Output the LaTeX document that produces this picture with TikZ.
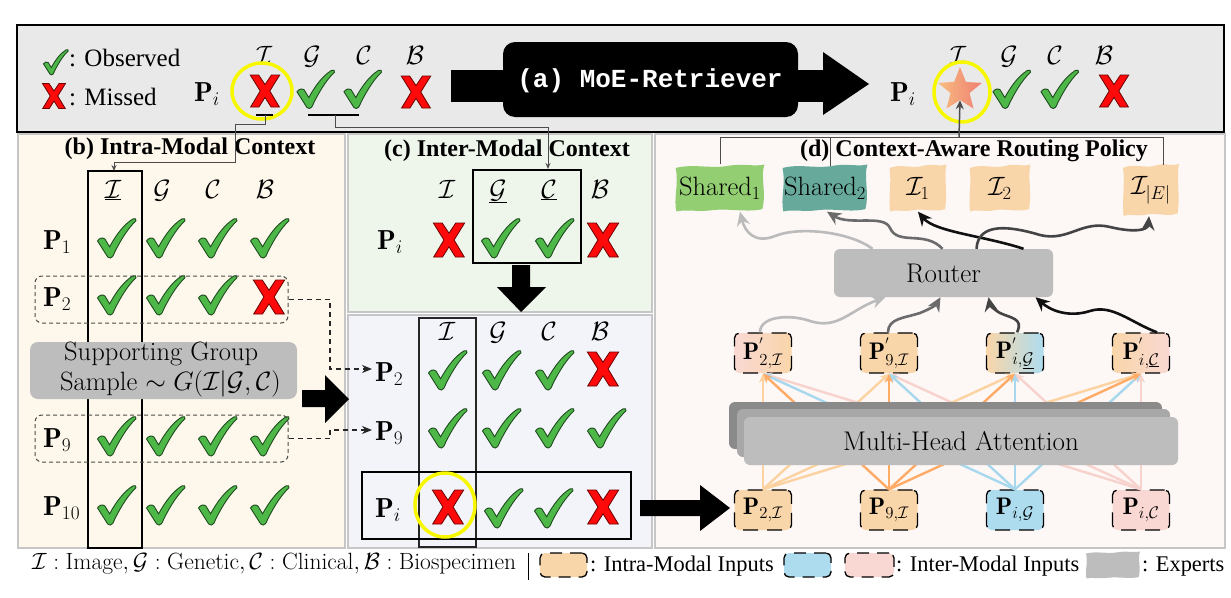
\RequirePackage{fix-cm}
\documentclass[tikz,border=0pt]{standalone}
\usepackage{fontspec}
\newfontfamily\tmsfont{Liberation Serif}
\newfontfamily\monofnt{Liberation Mono}
\usetikzlibrary{arrows.meta,shapes.geometric,calc}
\definecolor{ckgreen}{HTML}{4DB848}
\definecolor{ckline}{HTML}{1F4A1F}
\definecolor{xred}{HTML}{FF0A0A}
\definecolor{xline}{HTML}{6B0000}
\definecolor{barbg}{HTML}{E9E9E9}
\definecolor{bbg}{HTML}{FDF8EB}
\definecolor{cbgA}{HTML}{EEF6EC}
\definecolor{cbgB}{HTML}{F3F4FA}
\definecolor{dbg}{HTML}{FDF7F6}
\definecolor{pborder}{HTML}{C6C6C6}
\definecolor{boxgray}{HTML}{BDBDBD}
\definecolor{peach}{HTML}{F9D6A9}
\definecolor{lblue}{HTML}{AEDCEF}
\definecolor{lpink}{HTML}{F9D8D3}
\definecolor{shA}{HTML}{93CF72}
\definecolor{shB}{HTML}{67AA9C}
\definecolor{attA}{HTML}{FCD3A0}
\definecolor{attB}{HTML}{FFAB68}
\definecolor{attC}{HTML}{A7D8EE}
\definecolor{attD}{HTML}{F8D2CC}
\definecolor{gA}{HTML}{BBBBBB}
\definecolor{gB}{HTML}{6B6B6B}
\definecolor{gC}{HTML}{444444}
\definecolor{gD}{HTML}{111111}
\definecolor{hlyellow}{HTML}{F7F700}
\definecolor{starA}{HTML}{F8BC80}
\definecolor{starB}{HTML}{EE7F72}
\definecolor{layA}{HTML}{8A8A8A}
\definecolor{layB}{HTML}{A8A8A8}
\newcommand\chk[3]{\filldraw[fill=ckgreen,draw=ckline,line width=0.9pt,shift={(#1,#2)},scale=#3,yscale=-1] (-1.0,-0.15) .. controls (-0.9,0.0) and (-0.75,0.05) .. (-0.62,-0.05) -- (-0.38,-0.45) .. controls (-0.05,0.15) and (0.35,0.7) .. (0.82,0.98) .. controls (0.92,1.03) and (1.02,0.97) .. (0.97,0.88) .. controls (0.5,0.45) and (0.05,-0.35) .. (-0.22,-0.95) .. controls (-0.28,-1.05) and (-0.42,-1.05) .. (-0.48,-0.97) -- cycle;}
\newcommand\xmk[3]{\filldraw[fill=xred,draw=xline,line width=0.8pt,shift={(#1,#2)},scale=#3] (-0.9,1) -- (-0.38,1) -- (0,0.4) -- (0.38,1) -- (0.9,1) -- (0.3,0) -- (0.92,-1) -- (0.4,-1) -- (0,-0.4) -- (-0.4,-1) -- (-0.92,-1) -- (-0.3,0) -- cycle;}
\newcommand\blob[5]{\fill[#5,shift={(#1,#2)},xscale=#3/2,yscale=#4/2] (-1,-0.85) .. controls (-0.6,-1.05) and (-0.2,-0.8) .. (0.2,-0.95) .. controls (0.5,-1.05) and (0.8,-0.9) .. (1,-1.0) .. controls (0.9,-0.5) and (1.05,0.2) .. (0.95,0.9) .. controls (0.6,1.05) and (0.2,0.85) .. (-0.2,0.95) .. controls (-0.5,1.02) and (-0.8,0.9) .. (-0.98,1.0) .. controls (-1.05,0.5) and (-0.92,-0.2) .. cycle;}
\begin{document}
\begin{tikzpicture}[x=1pt,y=-1pt,
  font=\fontsize{27}{31}\selectfont,
  ttl/.style={font=\tmsfont\bfseries\fontsize{24}{28}\selectfont, inner sep=0pt},
  mth/.style={font=\fontsize{26.5}{30}\selectfont, inner sep=0pt},
  lbl/.style={font=\fontsize{27.5}{31}\selectfont, inner sep=0pt},
  legt/.style={font=\tmsfont\fontsize{22.4}{26}\selectfont, inner sep=0pt, anchor=base west},
  pbox/.style={rounded corners=5pt, minimum width=57pt, minimum height=40pt, inner sep=0pt, draw=black, line width=1.3pt, dash pattern=on 15pt off 9pt, font=\fontsize{24}{28}\selectfont},
  conn/.style={draw=black!70, line width=1pt},
  att/.style={line width=2.4pt, -{Stealth[length=9pt,width=8pt]}},
  wav/.style={line width=2.6pt, -{Stealth[length=14pt,width=13pt]}},
  dbox/.style={draw=black!70, line width=1pt, dash pattern=on 4pt off 3pt, rounded corners=7pt, inner sep=0pt},
  dconn/.style={draw=black!85, line width=1.2pt, dash pattern=on 5pt off 4pt, -{Stealth[length=10pt,width=8pt]}},
  expn/.style={inner sep=0pt, font=\fontsize{26.5}{30}\selectfont},
  colrect/.style={draw=black, line width=2pt},
]
\useasboundingbox (0,0) rectangle (1231,597);
% ---------- backgrounds
\filldraw[fill=barbg, draw=black, line width=2.5pt] (17,25) rectangle (1224,132);
\filldraw[fill=bbg, draw=pborder, line width=1.5pt] (18,134) rectangle (345,548);
\filldraw[fill=cbgA, draw=pborder, line width=1.5pt] (348,134) rectangle (652,312);
\filldraw[fill=cbgB, draw=pborder, line width=1.5pt] (348,315) rectangle (652,548);
\filldraw[fill=dbg, draw=pborder, line width=1.5pt] (655,134) rectangle (1225,548);
% ---------- top bar
\chk{56}{62}{12.5}
\node[legt, font=\tmsfont\fontsize{25}{28}\selectfont] (obs) at (69,66) {: Observed};
\xmk{54}{96}{12.5}
\node[legt, font=\tmsfont\fontsize{25}{28}\selectfont] (mis) at (69,105) {: Missed};
\node[lbl, anchor=base west] (pa) at (194,101) {$\mathbf{P}_i$};
\node[mth, anchor=base] (ha1) at (264,64) {$\mathcal{I}$};
\node[mth, anchor=base] (ha2) at (312,64) {$\mathcal{G}$};
\node[mth, anchor=base] (ha3) at (364,64) {$\mathcal{C}$};
\node[mth, anchor=base] (ha4) at (415,64) {$\mathcal{B}$};
\xmk{265}{91}{16}
\chk{316}{89}{19}
\chk{363}{89}{19}
\xmk{416}{92}{16}
\draw[hlyellow, line width=3.5pt] (262,91) ellipse [x radius=30, y radius=28];
% MoE retriever arrow
\fill (451,70) rectangle (824,102);
\fill[rounded corners=12pt] (503,42) rectangle (798,117);
\fill (823,52) -- (869,84) -- (823,115) -- cycle;
\node[font=\monofnt\bfseries\fontsize{26}{29}\selectfont, text=white] (moe) at (650,81) {(a) MoE-Retriever};
\node[lbl, anchor=base west] (pb) at (890,101) {$\mathbf{P}_i$};
\node[mth, anchor=base] (hb1) at (958,64) {$\mathcal{I}$};
\node[mth, anchor=base] (hb2) at (1009,64) {$\mathcal{G}$};
\node[mth, anchor=base] (hb3) at (1055,64) {$\mathcal{C}$};
\node[mth, anchor=base] (hb4) at (1104,64) {$\mathcal{B}$};
\node[star, star points=5, star point ratio=2.3, minimum size=46pt, inner sep=0pt, left color=starA, right color=starB] (star) at (960,90) {};
\chk{1012}{89}{19}
\chk{1060}{89}{19}
\xmk{1114}{91}{16}
\draw[hlyellow, line width=3.5pt] (962,92) ellipse [x radius=28, y radius=30];
% ---------- panel (b)
\node[ttl] (tb) at (190,149) {(b) Intra-Modal Context};
\draw[colrect] (88,171) rectangle (142,548);
\node[mth, anchor=base] (bh1) at (113,198) {$\underline{\mathcal{I}}$};
\node[mth, anchor=base] (bh2) at (162,198) {$\mathcal{G}$};
\node[mth, anchor=base] (bh3) at (213,198) {$\mathcal{C}$};
\node[mth, anchor=base] (bh4) at (265,198) {$\mathcal{B}$};
\node[lbl, anchor=base west] (bp1) at (43,249) {$\mathbf{P}_1$};
\node[lbl, anchor=base west] (bp2) at (43,306) {$\mathbf{P}_2$};
\node[lbl, anchor=base west] (bp9) at (43,447) {$\mathbf{P}_9$};
\node[lbl, anchor=base west] (bp10) at (43,515) {$\mathbf{P}_{10}$};
\chk{117}{238}{19.5}\chk{166}{238}{19.5}\chk{218}{238}{19.5}\chk{270}{238}{19.5}
\chk{117}{295}{19.5}\chk{166}{295}{19.5}\chk{218}{295}{19.5}\xmk{269}{297}{17}
\chk{117}{436}{19.5}\chk{166}{436}{19.5}\chk{218}{436}{19.5}\chk{270}{436}{19.5}
\chk{117}{505}{19.5}\chk{166}{505}{19.5}\chk{218}{505}{19.5}\chk{270}{505}{19.5}
\node[dbox, minimum width=253pt, minimum height=47pt] (g2) at (161.5,299.5) {};
\node[dbox, minimum width=253pt, minimum height=47pt] (g9) at (161.5,438.5) {};
\node[fill=boxgray, rounded corners=8pt, minimum width=267pt, minimum height=57pt, inner sep=0pt] (sg) at (163.5,370.5) {};
\node[anchor=north west, inner sep=0pt, align=left, font=\fontsize{26.5}{29.5}\selectfont] (sgt) at (60,342) {\hspace*{4pt}Supporting Group\\Sample $\sim G(\mathcal{I}|\mathcal{G},\mathcal{C})$};
\fill (302,390) -- (325,390) -- (325,375) -- (349,399) -- (325,423) -- (325,407) -- (302,407) -- cycle;
% ---------- panel (c)
\node[ttl] (tc) at (507,151) {(c) Inter-Modal Context};
\node[mth, anchor=base] (ch1) at (447,198) {$\mathcal{I}$};
\node[mth, anchor=base] (ch2) at (498,198) {$\underline{\mathcal{G}}$};
\node[mth, anchor=base] (ch3) at (549,198) {$\underline{\mathcal{C}}$};
\node[mth, anchor=base] (ch4) at (600,198) {$\mathcal{B}$};
\node[lbl, anchor=base west] (cpi) at (377,249) {$\mathbf{P}_i$};
\xmk{449}{240}{17}\chk{501}{238}{19.5}\chk{555}{238}{19.5}\xmk{603}{240}{17}
\draw[colrect] (473,170) rectangle (581,263);
\fill (512,265) -- (530,265) -- (530,287) -- (546,287) -- (521,312) -- (497,287) -- (512,287) -- cycle;
\draw[colrect, draw=black!85] (419,318) rectangle (476,547);
\node[mth, anchor=base] (dh1) at (447,340) {$\mathcal{I}$};
\node[mth, anchor=base] (dh2) at (498,340) {$\mathcal{G}$};
\node[mth, anchor=base] (dh3) at (549,340) {$\mathcal{C}$};
\node[mth, anchor=base] (dh4) at (600,340) {$\mathcal{B}$};
\node[lbl, anchor=base west] (cp2) at (375,381) {$\mathbf{P}_2$};
\node[lbl, anchor=base west] (cp9) at (375,440) {$\mathbf{P}_9$};
\node[lbl, anchor=base west] (cpj) at (375,517) {$\mathbf{P}_i$};
\chk{448}{370}{19.5}\chk{502}{370}{19.5}\chk{555}{370}{19.5}\xmk{603}{369}{17}
\chk{448}{428}{19.5}\chk{502}{428}{19.5}\chk{555}{428}{19.5}\chk{607}{428}{19.5}
\xmk{448}{507}{17}\chk{504}{508}{19.5}\chk{554}{508}{19.5}\xmk{603}{507}{17}
\draw[colrect] (362,472) rectangle (631,539);
\draw[hlyellow, line width=3.5pt] (445,505) ellipse [x radius=30, y radius=32];
\draw[dconn] (g2.east) -- (330,299.5) -- (330,369) -- (372,369);
\draw[dconn] (g9.east) -- (330,438.5) -- (330,430) -- (372,430);
\fill (640,500) -- (700,500) -- (700,485) -- (730,508) -- (700,531) -- (700,516) -- (640,516) -- cycle;
% ---------- panel (d)
\node[ttl] (td) at (974,151) {(d) Context-Aware Routing Policy};
\blob{720}{188}{89}{47}{shA}
\blob{825}{188}{85}{47}{shB}
\blob{918}{188}{57}{47}{peach}
\blob{1000}{188}{61}{47}{peach}
\blob{1151}{190}{56}{52}{peach}
\node[expn, minimum width=89pt, minimum height=47pt] (e1) at (720,188) {Shared$_1$};
\node[expn, minimum width=85pt, minimum height=47pt] (e2) at (825,188) {Shared$_2$};
\node[expn, minimum width=57pt, minimum height=47pt] (e3) at (918,188) {$\mathcal{I}_1$};
\node[expn, minimum width=61pt, minimum height=47pt] (e4) at (1000,188) {$\mathcal{I}_2$};
\node[expn, minimum width=56pt, minimum height=52pt] (e5) at (1151,190) {$\mathcal{I}_{|E|}$};
\node[pbox, fill=peach] (i1) at (763,510) {$\mathbf{P}_{2,\mathcal{I}}$};
\node[pbox, fill=peach] (i2) at (889,510) {$\mathbf{P}_{9,\mathcal{I}}$};
\node[pbox, fill=lblue] (i3) at (1015,510) {$\mathbf{P}_{i,\mathcal{G}}$};
\node[pbox, fill=lpink] (i4) at (1141,510) {$\mathbf{P}_{i,\mathcal{C}}$};
\node[pbox, left color=lpink, right color=peach] (o1) at (763,353) {$\mathbf{P}^{'}_{2,\mathcal{I}}$};
\node[pbox, fill=peach] (o2) at (889,353) {$\mathbf{P}^{'}_{9,\mathcal{I}}$};
\node[pbox, left color=peach, right color=lblue] (o3) at (1015,353) {$\mathbf{P}^{'}_{i,\underline{\mathcal{G}}}$};
\node[pbox, left color=peach, right color=lpink] (o4) at (1141,353) {$\mathbf{P}^{'}_{i,\underline{\mathcal{C}}}$};
\foreach \src/\col in {i4/attD, i3/attC, i1/attA, i2/attB}{
  \foreach \tgt in {o1,o2,o3,o4}{
    \draw[att, color=\col] (\src.north) -- (\tgt.south);
  }
}
\fill[layA, rounded corners=6pt] (729,402) rectangle (1162,449);
\fill[layB, rounded corners=6pt] (737,409) rectangle (1170,457);
\node[fill=boxgray, rounded corners=6pt, minimum width=434pt, minimum height=48pt, inner sep=0pt] (mha) at (961,441) {Multi-Head Attention};
\node[fill=boxgray, rounded corners=6pt, minimum width=219pt, minimum height=48pt, inner sep=0pt] (rt) at (943.5,273) {Router};
% wavy routing arrows
\draw[wav, gA] ($(rt.north)+(-71,0)$) .. controls (850,232) and (800,226) .. (775,236) .. controls (755,244) and (745,232) .. ($(e1.south)+(20,0)$);
\draw[wav, gB] ($(rt.north)+(-1,0)$) .. controls (925,230) and (898,246) .. (890,228) .. controls (884,214) and (850,226) .. ($(e2.south)+(2,0)$);
\draw[wav, gD] ($(rt.north)+(80,0)$) .. controls (985,236) and (935,232) .. (e3.south);
\draw[wav, gC] ($(rt.north)+(33,0)$) .. controls (978,222) and (1010,226) .. (1040,235) .. controls (1068,242) and (1082,220) .. (1110,227) .. controls (1135,233) and (1148,230) .. ($(e5.south)+(-2,0)$);
\draw[wav, gA] ($(o1.north)+(-3,0)$) .. controls (760,316) and (790,314) .. (810,321) .. controls (838,330) and (850,310) .. ($(rt.south)+(-58,0)$);
\draw[wav, gB] ($(o2.north)+(-1,0)$) .. controls (888,318) and (905,318) .. (920,313) .. controls (930,309) and (936,305) .. ($(rt.south)+(-3,0)$);
\draw[wav, gC] ($(o3.north)+(2,0)$) .. controls (1024,318) and (1010,318) .. (1000,313) .. controls (993,309) and (990,305) .. ($(rt.south)+(45,0)$);
\draw[wav, gD] ($(o4.north)+(16,0)$) .. controls (1130,322) and (1112,304) .. (1090,311) .. controls (1068,318) and (1050,310) .. ($(rt.south)+(92,0)$);
% ---------- thin connectors
\draw[line width=2pt] (256,115) -- (273,115);
\draw[line width=2pt] (308,115) -- (359,115);
\draw[conn, -{Stealth[length=6pt,width=5pt]}] (265,115) -- (265,124) -- (235,124) -- (235,162) -- (114,162) -- (114,171);
\draw[conn, -{Stealth[length=6pt,width=5pt]}] (335,115) -- (335,127) -- (548,127) -- (548,169);
\draw[conn] (e1.north) -- (720,137) -- (1163,137) -- (1163,165);
\draw[conn] (830,166) -- (830,137);
\draw[conn, line width=1.5pt, -{Stealth[length=9pt,width=8pt]}] (959,137) -- (star.south);
% ---------- legend
\node[font=\fontsize{23.5}{27}\selectfont, anchor=base west, inner sep=0pt] (leg) at (32,569) {$\mathcal{I}:\mathrm{Image},\mathcal{G}:\mathrm{Genetic},\mathcal{C}:\mathrm{Clinical},\mathcal{B}:\mathrm{Biospecimen}$};
\draw[line width=1pt] (528,553) -- (528,580);
\node[pbox, minimum width=47pt, minimum height=24pt, fill=peach, dash pattern=on 12pt off 8pt] (lk1) at (563.5,565) {};
\node[legt] (lt1) at (590,571) {: Intra-Modal Inputs};
\node[pbox, minimum width=47pt, minimum height=24pt, fill=lblue, dash pattern=on 12pt off 8pt] (lk2) at (807.5,565) {};
\node[pbox, minimum width=49pt, minimum height=24pt, fill=lpink, dash pattern=on 12pt off 8pt] (lk3) at (869.5,565) {};
\node[legt] (lt2) at (896,571) {: Inter-Modal Inputs};
\blob{1113}{565}{54}{27}{boxgray}
\node[legt] (lt3) at (1142,571) {: Experts};
\end{tikzpicture}
\end{document}
